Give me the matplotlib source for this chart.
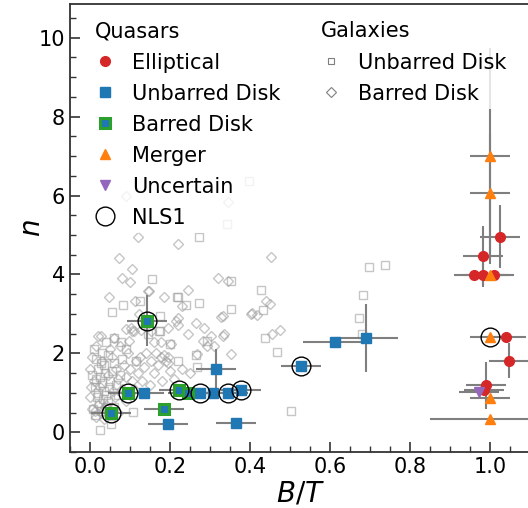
import matplotlib
matplotlib.use("Agg")
import matplotlib.pyplot as plt
from matplotlib.lines import Line2D
import numpy as np

# quasar hosts: (B/T, n, xerr, yerr)
ell_x = [1.025, 0.981, 0.958, 0.981, 1.010, 1.040, 1.047, 0.989, 0.985]
ell_y = [4.96, 4.48, 3.98, 3.98, 3.98, 2.42, 1.82, 1.19, 1.08]
ell_xe = [0.05, 0.05, 0.05, 0.05, 0.05, 0.05, 0.05, 0.05, 0.05]
ell_ye = [0.80, 0.75, 0.0, 0.30, 0.0, 0.0, 0.45, 0.60, 0.0]

unb_x = [0.134, 0.274, 0.306, 0.344, 0.377, 0.315, 0.195, 0.364, 0.526, 0.611, 0.690]
unb_y = [1.01, 1.01, 1.01, 1.01, 1.07, 1.61, 0.21, 0.24, 1.69, 2.28, 2.40]
unb_xe = [0.05, 0.05, 0.05, 0.05, 0.05, 0.05, 0.05, 0.05, 0.05, 0.078, 0.079]
unb_ye = [0.0, 0.0, 0.0, 0.0, 0.0, 0.5, 0.0, 0.0, 0.0, 0.0, 0.86]

bar_x = [0.143, 0.095, 0.053, 0.222, 0.244, 0.184]
bar_y = [2.83, 1.01, 0.49, 1.07, 1.01, 0.59]
bar_xe = [0.05, 0.05, 0.05, 0.05, 0.05, 0.05]
bar_ye = [0.65, 0.0, 0.0, 0.0, 0.0, 0.0]

mer_x = [1.0, 1.0, 1.0, 1.0, 1.0, 1.0]
mer_y = [7.0, 6.06, 3.98, 2.42, 0.86, 0.33]
mer_xe = [0.05, 0.05, 0.05, 0.05, 0.05, 0.15]
mer_ye = [2.74, 1.5, 0.0, 0.0, 0.0, 0.0]

unc_x = [0.972]
unc_y = [1.02]
unc_xe = [0.05]
unc_ye = [0.0]

nls1_x = [0.143, 0.095, 0.053, 0.222, 0.274, 0.344, 0.377, 0.526, 1.0]
nls1_y = [2.83, 1.01, 0.49, 1.07, 1.01, 1.01, 1.07, 1.69, 2.42]

# comparison galaxies
gal_unb_x = [0.396, 0.341, 0.273, 0.353, 0.426, 0.156, 0.273, 0.219, 0.083, 0.056,
             0.239, 0.352, 0.432, 0.437, 0.173, 0.200, 0.220, 0.268, 0.115, 0.292,
             0.077, 0.061, 0.468, 0.501, 0.264, 0.698, 0.736, 0.682, 0.673, 0.679,
             0.124, 0.176, 0.174, 0.145, 0.217,
             0.010, 0.015, 0.020, 0.025, 0.030, 0.012, 0.035, 0.040, 0.018, 0.022,
             0.045, 0.050, 0.055, 0.060, 0.030, 0.040, 0.065, 0.070, 0.008, 0.028,
             0.024, 0.053, 0.107, 0.035, 0.045, 0.015, 0.060, 0.075, 0.080, 0.090,
             0.020, 0.038, 0.048, 0.012, 0.005, 0.033, 0.027, 0.043]
gal_unb_y = [6.36, 5.27, 4.94, 3.84, 3.61, 3.88, 3.28, 3.42, 3.22, 3.05,
             3.22, 3.13, 3.10, 2.40, 2.57, 2.25, 1.82, 1.65, 1.82, 2.32,
             2.28, 2.40, 2.03, 0.55, 1.97, 4.19, 4.23, 3.48, 2.90, 2.50,
             3.32, 2.94, 2.58, 2.48, 3.44,
             2.10, 1.85, 1.60, 1.40, 1.25, 1.15, 1.05, 0.95, 0.90, 0.75,
             0.80, 1.30, 1.55, 1.75, 2.00, 2.30, 1.20, 0.95, 0.60, 0.55,
             0.07, 0.21, 0.52, 1.70, 1.95, 1.35, 0.65, 1.45, 1.85, 2.10,
             1.00, 1.50, 1.15, 0.45, 1.45, 0.85, 1.75, 0.62]

gal_bar_x = [0.090, 0.344, 0.121, 0.220, 0.453, 0.073, 0.105, 0.081, 0.320, 0.345,
             0.144, 0.244, 0.185, 0.048, 0.123, 0.219, 0.230, 0.331, 0.404, 0.449,
             0.439, 0.401, 0.418, 0.454, 0.474, 0.328, 0.333, 0.099, 0.113, 0.147,
             0.214, 0.220, 0.194, 0.244, 0.264, 0.285, 0.302, 0.335, 0.281, 0.293,
             0.268, 0.352, 0.310, 0.177, 0.202, 0.160, 0.177, 0.190, 0.194, 0.152,
             0.135, 0.115, 0.102, 0.111, 0.098, 0.127, 0.152, 0.090, 0.105, 0.028,
             0.000, 0.005, 0.010, 0.000, 0.005, 0.015, 0.020, 0.030, 0.035, 0.040,
             0.050, 0.055, 0.060, 0.065, 0.070, 0.075, 0.080, 0.085, 0.090, 0.095,
             0.100, 0.105, 0.110, 0.120, 0.125, 0.130, 0.140, 0.015, 0.025, 0.045,
             0.030, 0.058, 0.002, 0.020, 0.070, 0.090, 0.150, 0.160, 0.170, 0.180,
             0.200, 0.210, 0.230, 0.250, 0.195, 0.186, 0.165, 0.012, 0.038, 0.062]
gal_bar_y = [6.00, 5.83, 4.94, 4.78, 4.44, 4.42, 4.13, 3.92, 3.90, 3.83,
             3.57, 3.61, 3.44, 3.44, 3.00, 2.90, 3.20, 2.94, 3.03, 3.25,
             3.32, 3.00, 2.98, 2.50, 2.60, 2.92, 2.44, 3.82, 3.32, 3.58,
             2.82, 2.72, 2.65, 2.48, 2.78, 2.65, 2.44, 2.48, 2.32, 2.19,
             1.98, 1.98, 2.19, 2.28, 2.23, 2.28, 1.90, 1.82, 1.90, 1.82,
             1.65, 1.82, 2.65, 2.57, 2.32, 2.60, 2.57, 2.63, 2.57, 2.44,
             0.90, 0.60, 1.30, 1.60, 1.90, 2.20, 2.45, 0.50, 0.35, 0.70,
             2.10, 1.90, 2.40, 1.60, 1.35, 2.20, 1.10, 1.70, 1.40, 2.00,
             1.60, 1.30, 1.10, 1.50, 1.90, 1.30, 2.00, 0.40, 1.15, 1.45,
             1.80, 1.05, 1.15, 0.70, 0.50, 0.80, 1.20, 1.50, 1.70, 1.30,
             1.55, 1.35, 1.60, 1.50, 1.75, 1.95, 2.00, 0.55, 0.65, 0.90]

x_ticks = [0.0, 0.2, 0.4, 0.6, 0.8, 1.0]
y_ticks = [0, 2, 4, 6, 8, 10]

err_kw = dict(fmt='none', ecolor='#7f7f7f', elinewidth=1.5, capsize=0, zorder=2)

f = plt.figure(figsize=(5.28, 5.08), dpi=100)
ax = f.add_axes([0.1326, 0.110, 0.872, 0.882])

# galaxies
ax.plot(gal_unb_x, gal_unb_y, 's', ms=5.5, mfc='none', mec='#a0a0a0', mew=1.0,
        alpha=0.6, zorder=1)
ax.plot(gal_bar_x, gal_bar_y, 'D', ms=5.0, mfc='none', mec='#a0a0a0', mew=1.0,
        alpha=0.6, zorder=1)

# quasar error bars
for xs, ys, xe, ye in [(ell_x, ell_y, ell_xe, ell_ye), (unb_x, unb_y, unb_xe, unb_ye),
                       (bar_x, bar_y, bar_xe, bar_ye), (mer_x, mer_y, mer_xe, mer_ye),
                       (unc_x, unc_y, unc_xe, unc_ye)]:
    ax.errorbar(xs, ys, xerr=xe, yerr=ye, **err_kw)

# quasar markers
ax.plot(unb_x, unb_y, 's', ms=7, color='#1f77b4', mec='#1f77b4', zorder=4)
ax.plot(bar_x, bar_y, 's', ms=7, color='#1f77b4', mec='#2ca02c', mew=2.2, zorder=4)
ax.plot(ell_x, ell_y, 'o', ms=7, color='#d62728', zorder=4)
ax.plot(mer_x, mer_y, '^', ms=7.5, color='#ff7f0e', zorder=5)
ax.plot(unc_x, unc_y, 'v', ms=7.5, color='#9467bd', zorder=5)
ax.plot(nls1_x, nls1_y, 'o', ms=13.5, mfc='none', mec='black', mew=1.0, zorder=6)

ax.set_xlim(-0.05, 1.1)
ax.set_ylim(-0.5, 10.85)
ax.set_xticks(x_ticks)
ax.set_yticks(y_ticks)
ax.set_xticks(np.arange(-0.05, 1.1, 0.05), minor=True)
ax.set_yticks(np.arange(-0.5, 10.85, 0.5), minor=True)
ax.tick_params(which='both', direction='in', labelsize=15, color='#333333')
ax.tick_params(which='major', length=7, width=1.2)
ax.tick_params(which='minor', length=4, width=1.0)
for s in ax.spines.values():
    s.set_color('#333333')
    s.set_linewidth(1.3)
ax.set_xlabel('$B/T$', fontsize=20, labelpad=2)
ax.set_ylabel('$n$', fontsize=20, labelpad=-5)

q_handles = [
    Line2D([], [], ls='none', marker='o', ms=7, color='#d62728'),
    Line2D([], [], ls='none', marker='s', ms=7, color='#1f77b4'),
    Line2D([], [], ls='none', marker='s', ms=7, color='#1f77b4', mec='#2ca02c', mew=2.2),
    Line2D([], [], ls='none', marker='^', ms=7.5, color='#ff7f0e'),
    Line2D([], [], ls='none', marker='v', ms=7.5, color='#9467bd'),
    Line2D([], [], ls='none', marker='o', ms=13.5, mfc='none', mec='black', mew=1.0),
]
q_labels = ['Elliptical', 'Unbarred Disk', 'Barred Disk', 'Merger', 'Uncertain', 'NLS1']
leg1 = ax.legend(q_handles, q_labels, title='Quasars', loc='upper left',
                 bbox_to_anchor=(0.02, 0.996), fontsize=15, title_fontsize=15,
                 alignment='left', frameon=True, edgecolor='none', framealpha=0.8,
                 labelspacing=0.53, handlelength=1.0, handletextpad=0.8,
                 borderpad=0.25)
ax.add_artist(leg1)

g_handles = [
    Line2D([], [], ls='none', marker='s', ms=5, mfc='none', mec='#7f7f7f', mew=0.8),
    Line2D([], [], ls='none', marker='D', ms=5, mfc='none', mec='#7f7f7f', mew=0.8),
]
leg2 = ax.legend(g_handles, ['Unbarred Disk', 'Barred Disk'], title='Galaxies',
                 loc='upper left', bbox_to_anchor=(0.51, 0.996), fontsize=15,
                 title_fontsize=15, alignment='left', frameon=True, edgecolor='none',
                 framealpha=0.8, labelspacing=0.53, handlelength=1.0,
                 handletextpad=0.8, borderpad=0.25)

f.savefig('out.png', dpi=100)
